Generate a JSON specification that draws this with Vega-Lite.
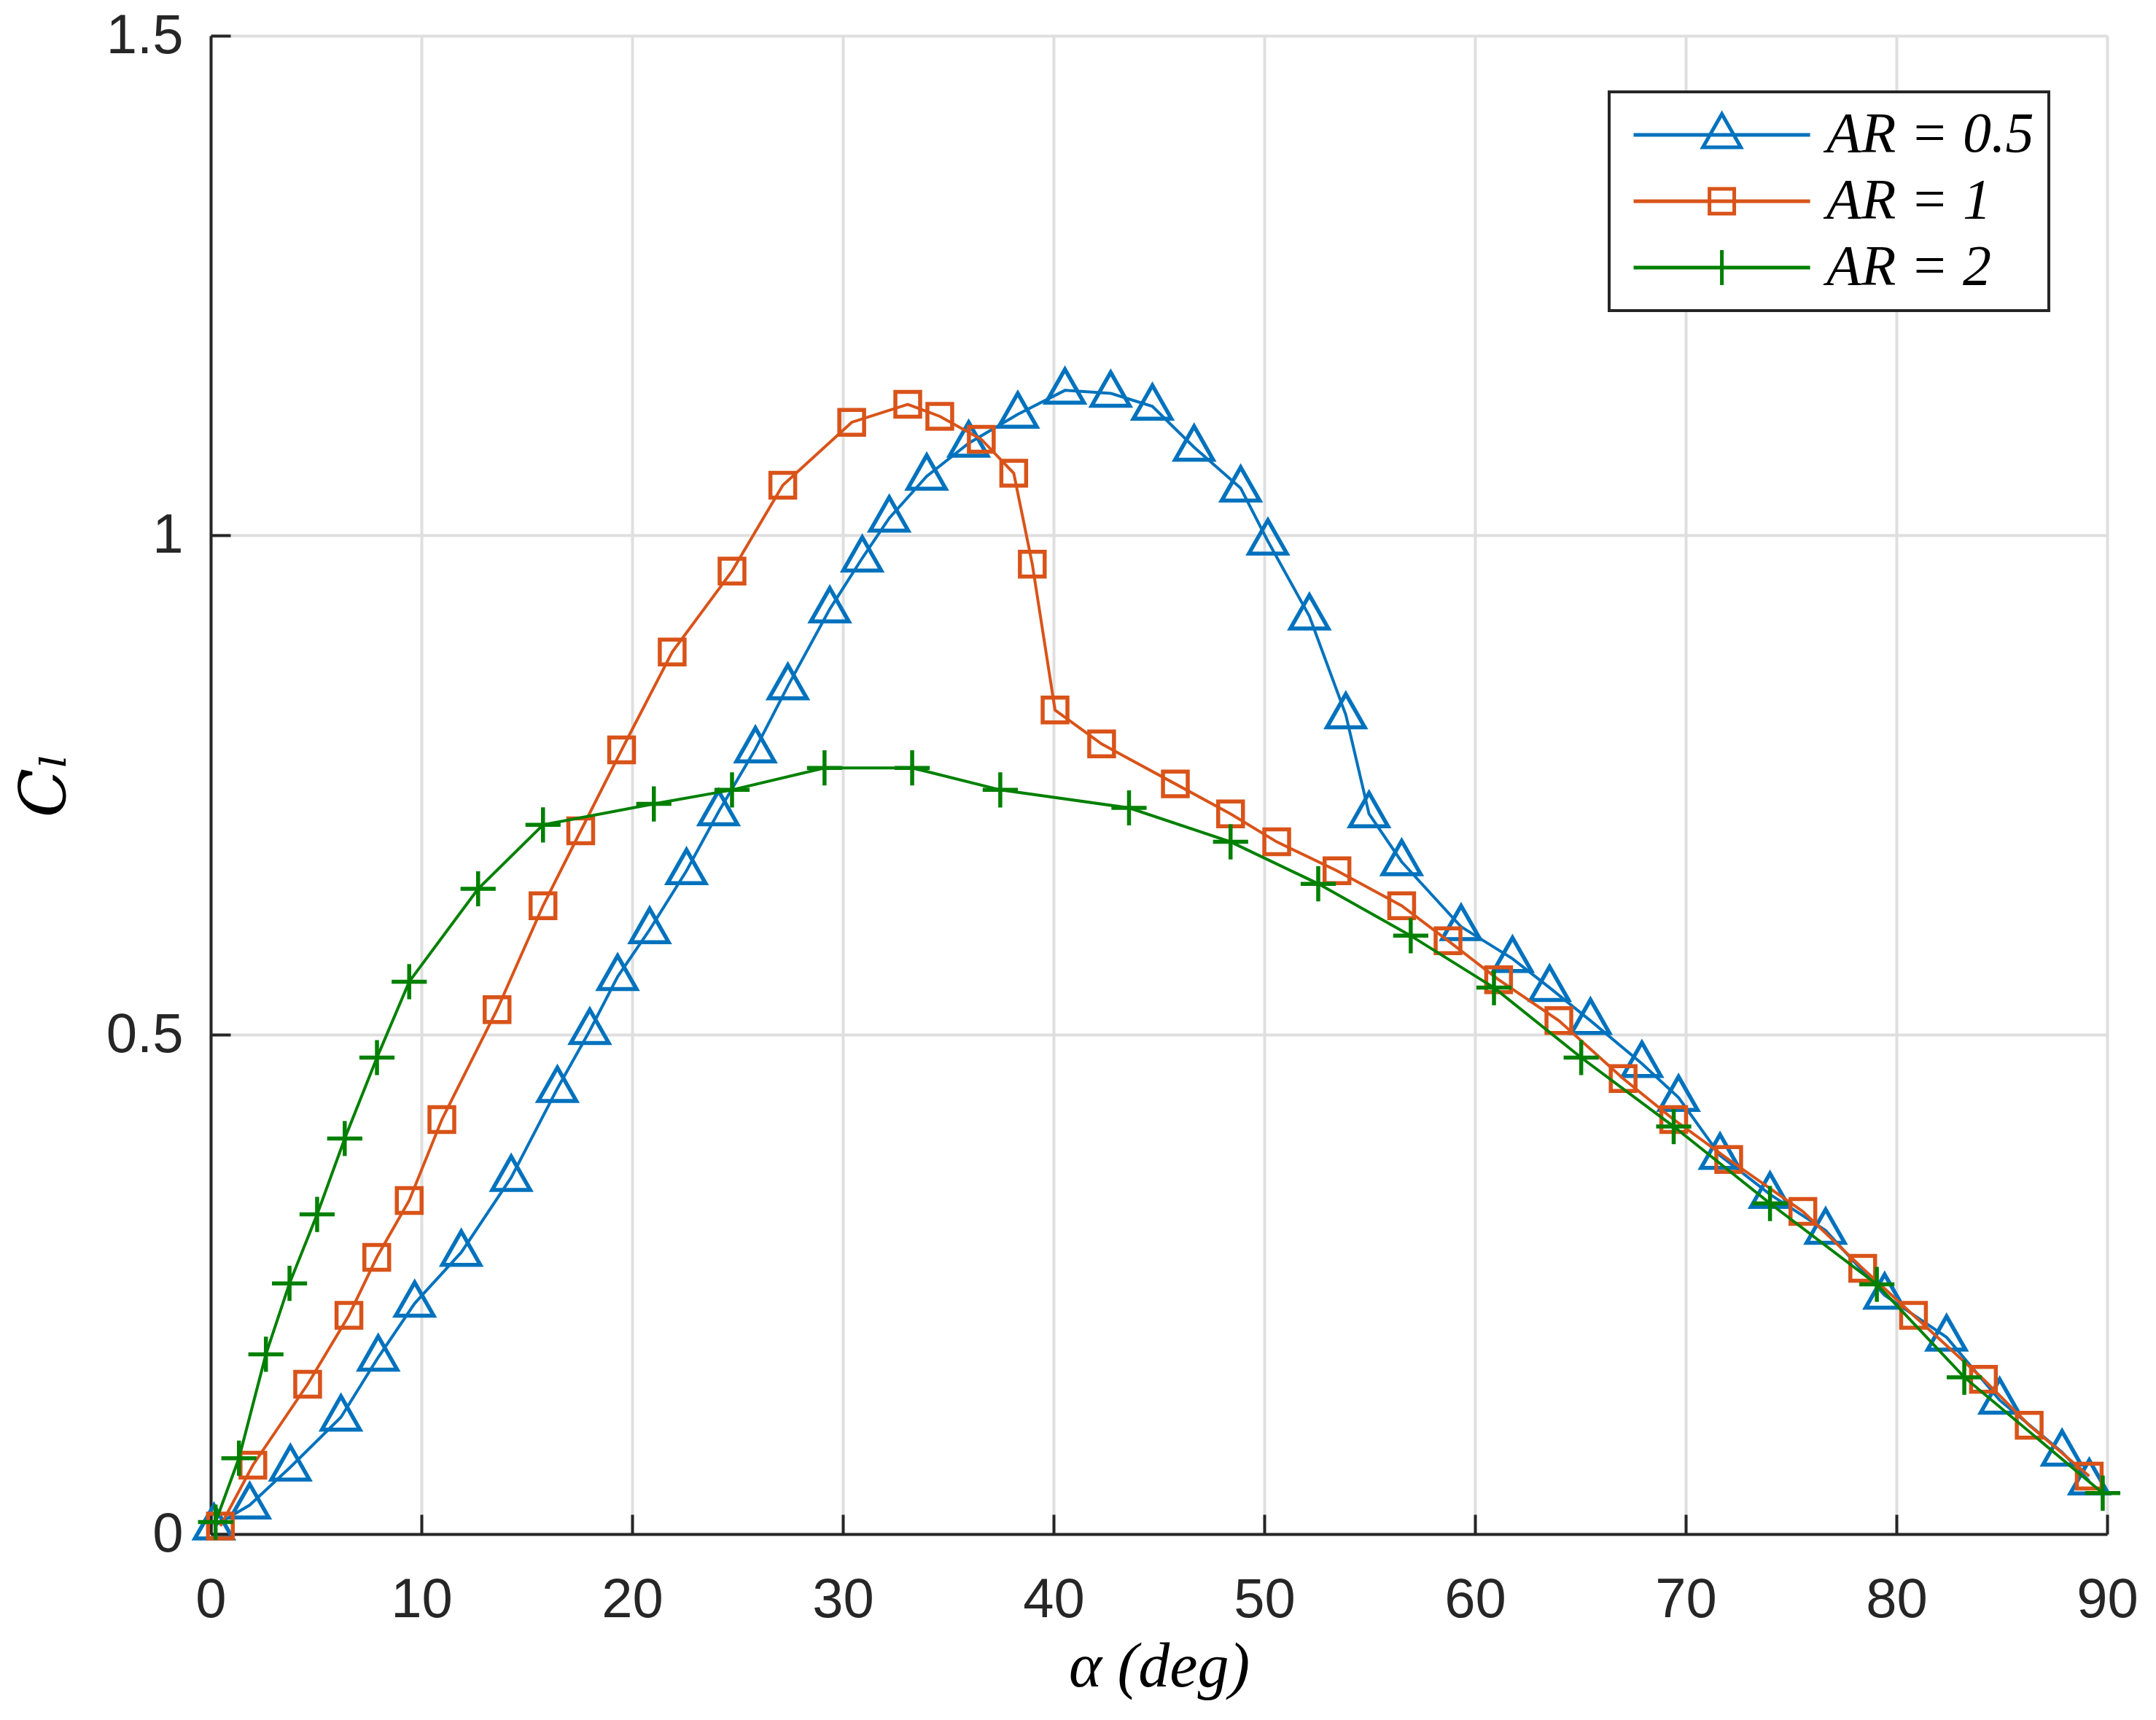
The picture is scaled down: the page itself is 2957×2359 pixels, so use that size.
{
  "$schema": "https://vega.github.io/schema/vega-lite/v6.json",
  "width": 2601,
  "height": 2055,
  "autosize": {"type": "none"},
  "padding": {"left": 289, "top": 49, "right": 67, "bottom": 255},
  "background": "white",
  "config": {
    "view": {"stroke": null},
    "axis": {
      "labelFlush": false,
      "labelOverlap": false,
      "labelFont": "Liberation Sans",
      "labelFontSize": 76,
      "labelColor": "#262626",
      "tickSize": -27,
      "tickWidth": 4,
      "tickColor": "#262626",
      "domainColor": "#262626",
      "domainWidth": 4,
      "grid": true,
      "gridColor": "#dfdfdf",
      "gridWidth": 4,
      "titleColor": "black",
      "titleFontWeight": "normal"
    }
  },
  "data": {
    "values": [
      {"s": "AR = 0.5", "a": 0.15, "cl": 0.008},
      {"s": "AR = 0.5", "a": 1.85, "cl": 0.029},
      {"s": "AR = 0.5", "a": 3.78, "cl": 0.067},
      {"s": "AR = 0.5", "a": 6.18, "cl": 0.117},
      {"s": "AR = 0.5", "a": 7.95, "cl": 0.177},
      {"s": "AR = 0.5", "a": 9.68, "cl": 0.231},
      {"s": "AR = 0.5", "a": 11.89, "cl": 0.282},
      {"s": "AR = 0.5", "a": 14.26, "cl": 0.357},
      {"s": "AR = 0.5", "a": 16.45, "cl": 0.446},
      {"s": "AR = 0.5", "a": 17.99, "cl": 0.504},
      {"s": "AR = 0.5", "a": 19.31, "cl": 0.558},
      {"s": "AR = 0.5", "a": 20.83, "cl": 0.605},
      {"s": "AR = 0.5", "a": 22.58, "cl": 0.664},
      {"s": "AR = 0.5", "a": 24.10, "cl": 0.723},
      {"s": "AR = 0.5", "a": 25.85, "cl": 0.786},
      {"s": "AR = 0.5", "a": 27.39, "cl": 0.849},
      {"s": "AR = 0.5", "a": 29.38, "cl": 0.926},
      {"s": "AR = 0.5", "a": 30.92, "cl": 0.977},
      {"s": "AR = 0.5", "a": 32.20, "cl": 1.017},
      {"s": "AR = 0.5", "a": 33.98, "cl": 1.059},
      {"s": "AR = 0.5", "a": 35.97, "cl": 1.092},
      {"s": "AR = 0.5", "a": 38.30, "cl": 1.121},
      {"s": "AR = 0.5", "a": 40.54, "cl": 1.145},
      {"s": "AR = 0.5", "a": 42.71, "cl": 1.142},
      {"s": "AR = 0.5", "a": 44.69, "cl": 1.129},
      {"s": "AR = 0.5", "a": 46.67, "cl": 1.088},
      {"s": "AR = 0.5", "a": 48.88, "cl": 1.047},
      {"s": "AR = 0.5", "a": 50.17, "cl": 0.994},
      {"s": "AR = 0.5", "a": 52.14, "cl": 0.919},
      {"s": "AR = 0.5", "a": 53.87, "cl": 0.820},
      {"s": "AR = 0.5", "a": 54.97, "cl": 0.721},
      {"s": "AR = 0.5", "a": 56.52, "cl": 0.673},
      {"s": "AR = 0.5", "a": 59.34, "cl": 0.608},
      {"s": "AR = 0.5", "a": 61.78, "cl": 0.576},
      {"s": "AR = 0.5", "a": 63.54, "cl": 0.547},
      {"s": "AR = 0.5", "a": 65.48, "cl": 0.514},
      {"s": "AR = 0.5", "a": 67.92, "cl": 0.471},
      {"s": "AR = 0.5", "a": 69.66, "cl": 0.437},
      {"s": "AR = 0.5", "a": 71.63, "cl": 0.379},
      {"s": "AR = 0.5", "a": 74.00, "cl": 0.340},
      {"s": "AR = 0.5", "a": 76.64, "cl": 0.304},
      {"s": "AR = 0.5", "a": 79.44, "cl": 0.239},
      {"s": "AR = 0.5", "a": 82.38, "cl": 0.197},
      {"s": "AR = 0.5", "a": 84.90, "cl": 0.134},
      {"s": "AR = 0.5", "a": 87.86, "cl": 0.082},
      {"s": "AR = 0.5", "a": 89.15, "cl": 0.053},
      {"s": "AR = 1", "a": 0.46, "cl": 0.008},
      {"s": "AR = 1", "a": 2.00, "cl": 0.069},
      {"s": "AR = 1", "a": 4.60, "cl": 0.150},
      {"s": "AR = 1", "a": 6.56, "cl": 0.219},
      {"s": "AR = 1", "a": 7.88, "cl": 0.277},
      {"s": "AR = 1", "a": 9.42, "cl": 0.334},
      {"s": "AR = 1", "a": 10.97, "cl": 0.415},
      {"s": "AR = 1", "a": 13.59, "cl": 0.525},
      {"s": "AR = 1", "a": 15.77, "cl": 0.629},
      {"s": "AR = 1", "a": 17.56, "cl": 0.704},
      {"s": "AR = 1", "a": 19.50, "cl": 0.785},
      {"s": "AR = 1", "a": 21.90, "cl": 0.883},
      {"s": "AR = 1", "a": 24.74, "cl": 0.964},
      {"s": "AR = 1", "a": 27.15, "cl": 1.050},
      {"s": "AR = 1", "a": 30.42, "cl": 1.113},
      {"s": "AR = 1", "a": 33.08, "cl": 1.131},
      {"s": "AR = 1", "a": 34.60, "cl": 1.119},
      {"s": "AR = 1", "a": 36.57, "cl": 1.096},
      {"s": "AR = 1", "a": 38.11, "cl": 1.062},
      {"s": "AR = 1", "a": 38.99, "cl": 0.971},
      {"s": "AR = 1", "a": 40.07, "cl": 0.825},
      {"s": "AR = 1", "a": 42.28, "cl": 0.791},
      {"s": "AR = 1", "a": 45.78, "cl": 0.751},
      {"s": "AR = 1", "a": 48.40, "cl": 0.721},
      {"s": "AR = 1", "a": 50.59, "cl": 0.693},
      {"s": "AR = 1", "a": 53.45, "cl": 0.664},
      {"s": "AR = 1", "a": 56.52, "cl": 0.629},
      {"s": "AR = 1", "a": 58.72, "cl": 0.594},
      {"s": "AR = 1", "a": 61.12, "cl": 0.555},
      {"s": "AR = 1", "a": 63.98, "cl": 0.514},
      {"s": "AR = 1", "a": 67.03, "cl": 0.456},
      {"s": "AR = 1", "a": 69.43, "cl": 0.415},
      {"s": "AR = 1", "a": 72.04, "cl": 0.375},
      {"s": "AR = 1", "a": 75.56, "cl": 0.323},
      {"s": "AR = 1", "a": 78.40, "cl": 0.266},
      {"s": "AR = 1", "a": 80.81, "cl": 0.219},
      {"s": "AR = 1", "a": 84.13, "cl": 0.155},
      {"s": "AR = 1", "a": 86.30, "cl": 0.109},
      {"s": "AR = 1", "a": 89.15, "cl": 0.058},
      {"s": "AR = 2", "a": 0.23, "cl": 0.012},
      {"s": "AR = 2", "a": 1.34, "cl": 0.076},
      {"s": "AR = 2", "a": 2.62, "cl": 0.180},
      {"s": "AR = 2", "a": 3.74, "cl": 0.251},
      {"s": "AR = 2", "a": 5.05, "cl": 0.320},
      {"s": "AR = 2", "a": 6.36, "cl": 0.396},
      {"s": "AR = 2", "a": 7.89, "cl": 0.477},
      {"s": "AR = 2", "a": 9.42, "cl": 0.553},
      {"s": "AR = 2", "a": 12.69, "cl": 0.646},
      {"s": "AR = 2", "a": 15.77, "cl": 0.710},
      {"s": "AR = 2", "a": 21.03, "cl": 0.731},
      {"s": "AR = 2", "a": 24.74, "cl": 0.745},
      {"s": "AR = 2", "a": 29.13, "cl": 0.767},
      {"s": "AR = 2", "a": 33.29, "cl": 0.767},
      {"s": "AR = 2", "a": 37.47, "cl": 0.745},
      {"s": "AR = 2", "a": 43.58, "cl": 0.727},
      {"s": "AR = 2", "a": 48.40, "cl": 0.693},
      {"s": "AR = 2", "a": 52.56, "cl": 0.651},
      {"s": "AR = 2", "a": 56.95, "cl": 0.599},
      {"s": "AR = 2", "a": 60.90, "cl": 0.547},
      {"s": "AR = 2", "a": 65.04, "cl": 0.477},
      {"s": "AR = 2", "a": 69.43, "cl": 0.408},
      {"s": "AR = 2", "a": 74.00, "cl": 0.331},
      {"s": "AR = 2", "a": 79.07, "cl": 0.250},
      {"s": "AR = 2", "a": 83.22, "cl": 0.157},
      {"s": "AR = 2", "a": 89.79, "cl": 0.041}
    ]
  },
  "encoding": {
    "x": {
      "field": "a",
      "type": "quantitative",
      "scale": {"domain": [0, 90], "nice": false, "zero": false},
      "axis": {
        "values": [0, 10, 20, 30, 40, 50, 60, 70, 80, 90],
        "format": "d",
        "labelPadding": 80,
        "title": "α (deg)",
        "titleFont": "Liberation Serif",
        "titleFontStyle": "italic",
        "titleFontSize": 86,
        "titlePadding": 12
      }
    },
    "y": {
      "field": "cl",
      "type": "quantitative",
      "scale": {"domain": [0, 1.5], "nice": false, "zero": false},
      "axis": {
        "values": [0, 0.5, 1, 1.5],
        "format": "~g",
        "labelPadding": 65,
        "title": "Cₗ",
        "titleFont": "DejaVu Serif",
        "titleFontStyle": "italic",
        "titleFontSize": 88,
        "titlePadding": 38
      }
    },
    "color": {
      "field": "s",
      "type": "nominal",
      "scale": {"domain": ["AR = 0.5", "AR = 1", "AR = 2"], "range": ["#0072BD", "#D95319", "#008000"]},
      "legend": {
        "title": null,
        "orient": "none",
        "legendX": 1918,
        "legendY": 77,
        "padding": 20,
        "labelFont": "Liberation Serif",
        "labelFontSize": 78,
        "labelFontStyle": "italic",
        "labelColor": "black",
        "labelOffset": 200,
        "labelLimit": 0,
        "symbolSize": 3000,
        "symbolStrokeWidth": 5,
        "rowPadding": 13,
        "encode": {
          "legend": {"update": {"stroke": {"value": "#262626"}, "strokeWidth": {"value": 4}, "fill": {"value": "white"}}},
          "symbols": {"update": {
            "fill": {"value": "transparent"},
            "shape": {"signal": "datum.value === 'AR = 0.5' ? 'M3.49,-1.05L4.44,0.62L2.54,0.62Z M-0.93,0L7.91,0' : (datum.value === 'AR = 1' ? 'M2.87,-0.62L4.11,-0.62L4.11,0.62L2.87,0.62Z M-0.93,0L7.91,0' : 'M2.61,0L4.37,0M3.49,-0.88L3.49,0.88M-0.93,0L7.91,0')"}
          }}
        }
      }
    }
  },
  "layer": [
    {"transform": [{"filter": "datum.s === 'AR = 0.5'"}], "mark": {"type": "line", "strokeWidth": 4}},
    {"transform": [{"filter": "datum.s === 'AR = 0.5'"}], "mark": {"type": "point", "filled": false, "size": 3000, "strokeWidth": 5.5, "opacity": 1, "shape": "M0,-1.05L0.95,0.62L-0.95,0.62Z"}},
    {"transform": [{"filter": "datum.s === 'AR = 1'"}], "mark": {"type": "line", "strokeWidth": 4}},
    {"transform": [{"filter": "datum.s === 'AR = 1'"}], "mark": {"type": "point", "filled": false, "size": 3000, "strokeWidth": 5.5, "opacity": 1, "shape": "M-0.62,-0.62L0.62,-0.62L0.62,0.62L-0.62,0.62Z"}},
    {"transform": [{"filter": "datum.s === 'AR = 2'"}], "mark": {"type": "line", "strokeWidth": 4}},
    {"transform": [{"filter": "datum.s === 'AR = 2'"}], "mark": {"type": "point", "filled": false, "size": 3000, "strokeWidth": 5.5, "opacity": 1, "shape": "M-0.88,0L0.88,0M0,-0.88L0,0.88"}}
  ]
}
